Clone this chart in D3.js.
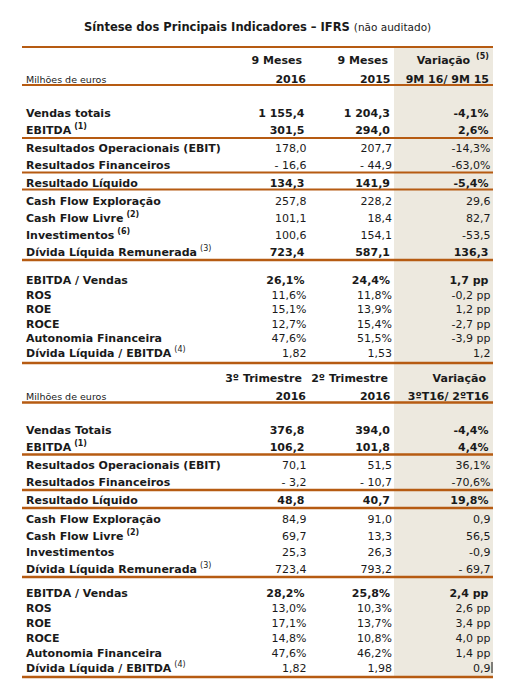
<!DOCTYPE html>
<html>
<head>
<meta charset="utf-8">
<script src="https://cdn.jsdelivr.net/npm/d3@7"></script>
<style>
  html, body { margin: 0; padding: 0; background: #fff; }
  svg { display: block; }
  text { font-family: Verdana, "DejaVu Sans", sans-serif; fill: #1a1a1a; }
</style>
</head>
<body>
<svg id="chart" width="523" height="684"></svg>
<script>
// ---------- DATA ----------
const title = "Síntese dos Principais Indicadores – IFRS";
const subtitle = "(não auditado)";
const unitLabel = "Milhões de euros";

const headTop1 = ["9 Meses", "9 Meses", "Variação"];
const headBottom1 = ["2016", "2015", "9M 16/ 9M 15"];
const headNote1 = ["", "", "(5)"];
const headTop2 = ["3º Trimestre", "2º Trimestre", "Variação"];
const headBottom2 = ["2016", "2016", "3ºT16/ 2ºT16"];
const headNote2 = ["", "", ""];

const labels1 = ["Vendas totais", "EBITDA", "Resultados Operacionais (EBIT)", "Resultados Financeiros",
  "Resultado Líquido", "Cash Flow Exploração", "Cash Flow Livre", "Investimentos",
  "Dívida Líquida Remunerada", "EBITDA / Vendas", "ROS", "ROE", "ROCE",
  "Autonomia Financeira", "Dívida Líquida / EBITDA"];
const notes1 = ["", "(1)", "", "", "", "", "(2)", "(6)", "(3)", "", "", "", "", "", "(4)"];
const ytd2016 = ["1 155,4", "301,5", "178,0", "- 16,6", "134,3", "257,8", "101,1", "100,6",
  "723,4", "26,1%", "11,6%", "15,1%", "12,7%", "47,6%", "1,82"];
const ytd2015 = ["1 204,3", "294,0", "207,7", "- 44,9", "141,9", "228,2", "18,4", "154,1",
  "587,1", "24,4%", "11,8%", "13,9%", "15,4%", "51,5%", "1,53"];
const ytdVar = ["-4,1%", "2,6%", "-14,3%", "-63,0%", "-5,4%", "29,6", "82,7", "-53,5",
  "136,3", "1,7 pp", "-0,2 pp", "1,2 pp", "-2,7 pp", "-3,9 pp", "1,2"];
const boldRows1 = [0, 1, 4, 8, 9];

const labels2 = ["Vendas Totais", "EBITDA", "Resultados Operacionais (EBIT)", "Resultados Financeiros",
  "Resultado Líquido", "Cash Flow Exploração", "Cash Flow Livre", "Investimentos",
  "Dívida Líquida Remunerada", "EBITDA / Vendas", "ROS", "ROE", "ROCE",
  "Autonomia Financeira", "Dívida Líquida / EBITDA"];
const notes2 = ["", "(1)", "", "", "", "", "(2)", "", "(3)", "", "", "", "", "", "(4)"];
const q3 = ["376,8", "106,2", "70,1", "- 3,2", "48,8", "84,9", "69,7", "25,3",
  "723,4", "28,2%", "13,0%", "17,1%", "14,8%", "47,6%", "1,82"];
const q2 = ["394,0", "101,8", "51,5", "- 10,7", "40,7", "91,0", "13,3", "26,3",
  "793,2", "25,8%", "10,3%", "13,7%", "10,8%", "46,2%", "1,98"];
const qVar = ["-4,4%", "4,4%", "36,1%", "-70,6%", "19,8%", "0,9", "56,5", "-0,9",
  "- 69,7", "2,4 pp", "2,6 pp", "3,4 pp", "4,0 pp", "1,4 pp", "0,9"];
const boldRows2 = [0, 1, 4, 9];

const groupSizes = [2, 2, 1, 4, 6];
const lightNotes = ["(3)", "(4)"];

// ---------- LAYOUT ----------
const RULE = "#B65B12", SHADE = "#EDE9DF";
const svg = d3.select("#chart");
const colKeys = ["c1", "c2", "c3"];
const colRight = d3.scaleOrdinal().domain(colKeys).range([306, 391.5, 490]);
const headRight = d3.scaleOrdinal().domain(colKeys).range([302, 388, 486]);
const labelX = 26;

const sections = [
  { head1: 64, head2: 83, groupStart: [113.3, 148.3, 182.7, 200.7, 280], groupStep: [16.7, 16.7, 0, 17.2, 14.6],
    rules: [[47, 2], [85, 2.2], [138, 2.2], [172.5, 2.2], [189.5, 2.2], [260, 2.6], [363, 2.6]],
    top: headTop1, bottom: headBottom1, hnote: headNote1, labels: labels1, notes: notes1,
    cols: [ytd2016, ytd2015, ytdVar], bold: boldRows1 },
  { head1: 381.5, head2: 399.5, groupStart: [430, 465, 500, 519, 593.3], groupStep: [16.7, 16.7, 0, 16.7, 15],
    rules: [[402.5, 2.4], [454.5, 2.4], [490, 2.4], [508, 2.4], [577, 2.4], [677, 2.6]],
    top: headTop2, bottom: headBottom2, hnote: headNote2, labels: labels2, notes: notes2,
    cols: [q3, q2, qVar], bold: boldRows2 }
];

// shaded variation column
svg.append("rect").attr("x", 394).attr("y", 48).attr("width", 99).attr("height", 629).attr("fill", SHADE);

// title
const t = svg.append("text").attr("x", 84).attr("y", 31);
t.append("tspan").attr("font-size", 11.5).attr("font-weight", "bold").text(title + " ");
t.append("tspan").attr("font-size", 10.5).text(subtitle);

sections.forEach(sec => {
  const rowY = [];
  groupSizes.forEach((n, g) => {
    const ys = d3.scaleLinear().domain([0, 1]).range([sec.groupStart[g], sec.groupStart[g] + sec.groupStep[g]]);
    d3.range(n).forEach(i => rowY.push(ys(i)));
  });

  // headers
  const hd = colKeys.map((k, i) => ({ k, top: sec.top[i], bottom: sec.bottom[i], note: sec.hnote[i] }));
  const ht = svg.selectAll(null).data(hd).enter().append("text")
    .attr("x", d => d.note ? 489 : headRight(d.k)).attr("y", sec.head1)
    .attr("text-anchor", "end").attr("font-size", 11).attr("font-weight", "bold");
  ht.append("tspan").text(d => d.top);
  ht.filter(d => d.note).append("tspan").attr("font-size", 8).attr("dy", -5).attr("dx", 6).text(d => d.note);

  svg.selectAll(null).data(hd).enter().append("text")
    .attr("x", d => colRight(d.k) - (d.k === "c1" ? 0 : 1)).attr("y", sec.head2)
    .attr("text-anchor", "end").attr("font-size", 11).attr("font-weight", "bold")
    .text(d => d.bottom);

  svg.append("text").attr("x", labelX).attr("y", sec.head2).attr("font-size", 9.5).attr("fill", "#222")
    .text(unitLabel);

  // row labels
  const rows = sec.labels.map((l, i) => ({ l, note: sec.notes[i], y: rowY[i] }));
  const lt = svg.selectAll(null).data(rows).enter().append("text")
    .attr("x", labelX).attr("y", d => d.y + 4).attr("font-size", 11).attr("font-weight", "bold");
  lt.append("tspan").text(d => d.l);
  lt.filter(d => d.note).append("tspan").attr("font-size", 8).attr("dy", -5).attr("dx", 3)
    .attr("font-weight", d => lightNotes.includes(d.note) ? "normal" : "bold")
    .text(d => d.note);

  // values
  sec.cols.forEach((col, ci) => {
    const k = colKeys[ci];
    svg.selectAll(null).data(col.map((v, i) => ({ v, y: rowY[i], bold: sec.bold.includes(i) })))
      .enter().append("text")
      .attr("x", d => colRight(k) + (d.bold ? -1.5 : 0.5))
      .attr("y", d => d.y + 4)
      .attr("text-anchor", "end").attr("font-size", 11)
      .attr("font-weight", d => d.bold ? "bold" : "normal")
      .attr("fill", d => d.bold ? "#1a1a1a" : "#333")
      .text(d => d.v);
  });

  // rules
  svg.selectAll(null).data(sec.rules).enter().append("line")
    .attr("x1", 22).attr("x2", 493).attr("y1", d => d[0]).attr("y2", d => d[0])
    .attr("stroke", RULE).attr("stroke-width", d => d[1]);
});

// text cursor seen in the reference after the last value
svg.append("line").attr("x1", 492).attr("x2", 492).attr("y1", 662).attr("y2", 673)
  .attr("stroke", "#111").attr("stroke-width", 1);
</script>
</body>
</html>
